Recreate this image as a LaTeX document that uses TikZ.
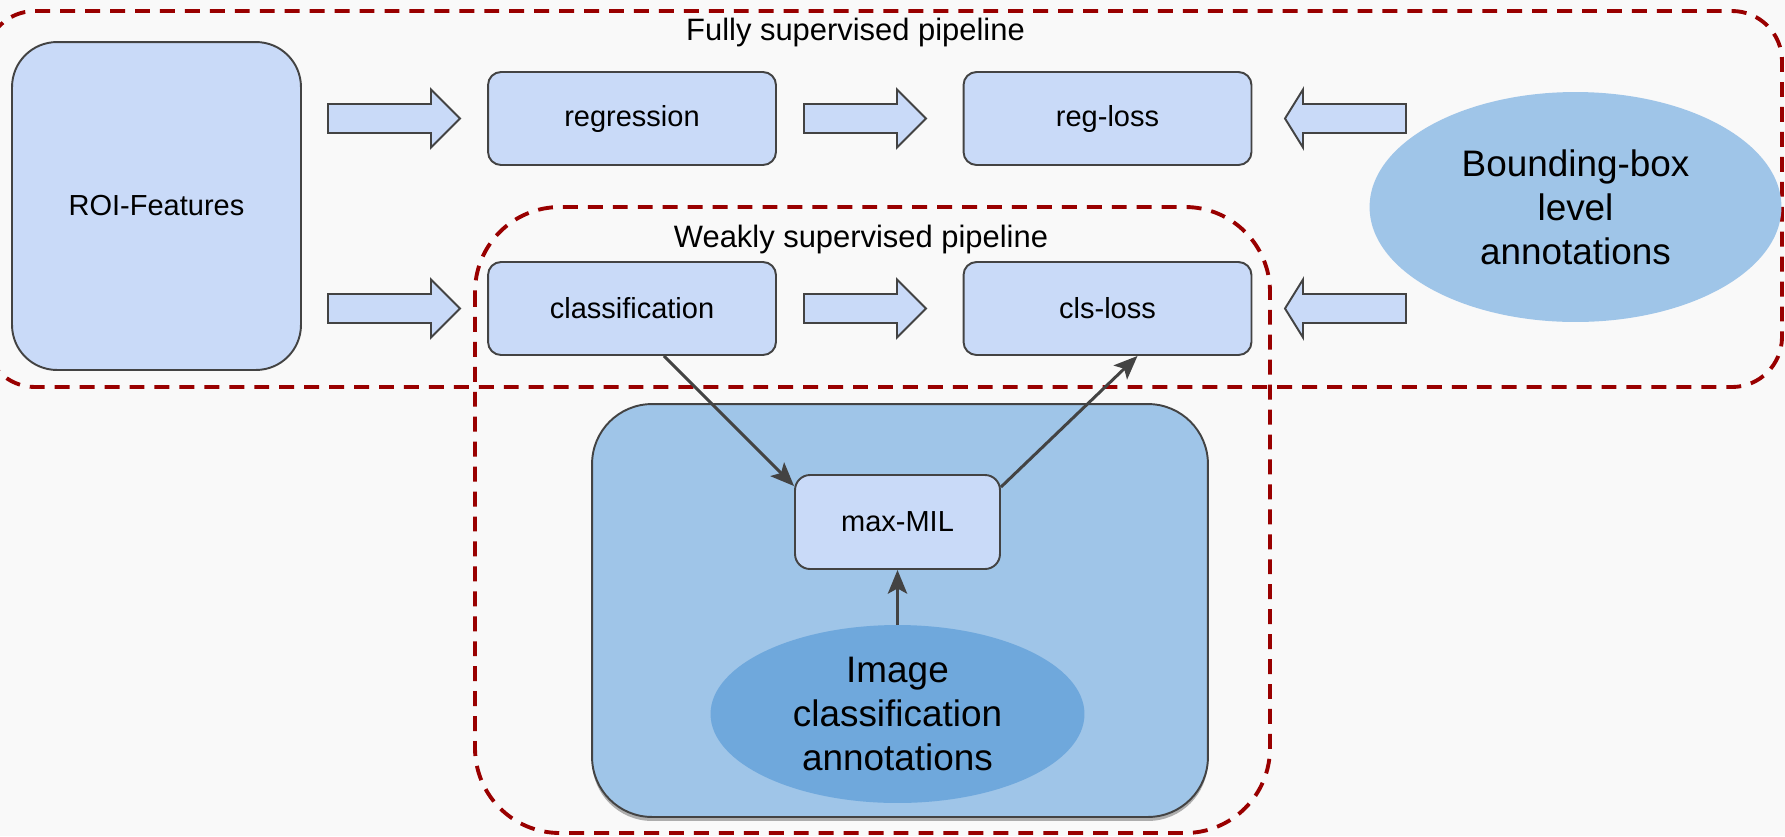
\documentclass[tikz,border=0pt]{standalone}
\usepackage{fontspec}
\setmainfont{Liberation Sans}
\usepackage{xcolor}
\definecolor{boxblue}{HTML}{C9DAF8}
\definecolor{paleblue}{HTML}{9FC5E8}
\definecolor{midblue}{HTML}{6FA8DC}
\definecolor{dashred}{HTML}{990000}
\definecolor{darkslate}{HTML}{434343}
\definecolor{canvasgray}{HTML}{F9F9F9}
\usepackage{tikz}
\usetikzlibrary{arrows.meta, positioning, calc, shapes.geometric, shadows}

\newcommand{\blockarrow}[4]{%
    \draw[blockarr] (#1,{#3-14.5}) -- ({#2-(#4)},{#3-14.5}) -- ({#2-(#4)},{#3-29}) -- (#2,#3)
        -- ({#2-(#4)},{#3+29}) -- ({#2-(#4)},{#3+14.5}) -- (#1,{#3+14.5}) -- cycle;}

\begin{document}
\begin{tikzpicture}[x=0.02cm, y=-0.02cm,
    stage/.style={draw=darkslate, line width=1.1pt, fill=boxblue, rounded corners=0.26cm,
        minimum width=5.76cm, minimum height=1.86cm, font=\fontsize{16.5}{20}\selectfont},
    annot/.style={ellipse, fill=paleblue, inner sep=0pt, align=center, font=\fontsize{21}{25}\selectfont},
    pipeframe/.style={draw=dashred, line width=2.2pt, dash pattern=on 8.5pt off 5.7pt},
    pipelabel/.style={font=\fontsize{17.6}{21}\selectfont},
    blockarr/.style={draw=darkslate, line width=1.1pt, fill=boxblue, line join=miter},
    conn/.style={draw=darkslate, line width=1.7pt, -{Stealth[length=13.5pt, width=11pt, inset=3pt]}}]
    \useasboundingbox (0,0) rectangle (1785,836);
    \fill[canvasgray] (0,0) rectangle (1785,836);

    \draw[pipeframe, rounded corners=1cm] (-15,11) rectangle (1782,387);
    \draw[pipeframe, rounded corners=1.7cm] (475,207) rectangle (1270,833);
    \node[pipelabel] (fullylbl) at (855.5,32) {Fully supervised pipeline};
    \node[pipelabel] (weaklylbl) at (861,239) {Weakly supervised pipeline};

    \node[stage, rounded corners=0.9cm, minimum width=5.78cm, minimum height=6.56cm] (roi) at (156.5,206) {ROI-Features};
    \node[stage] (reg) at (632,118.5) {regression};
    \node[stage] (regloss) at (1107.5,118.5) {reg-loss};
    \node[stage] (cls) at (632,308.5) {classification};
    \node[stage] (clsloss) at (1107.5,308.5) {cls-loss};
    \node[annot, minimum width=8.24cm, minimum height=4.6cm] (bboxann) at (1575.5,207) {Bounding-box\\level\\annotations};

    \blockarrow{328}{460}{118.5}{29}
    \blockarrow{328}{460}{308.5}{29}
    \blockarrow{804}{926}{118.5}{29}
    \blockarrow{804}{926}{308.5}{29}
    \blockarrow{1406}{1285}{118.5}{-18}
    \blockarrow{1406}{1285}{308.5}{-18}

    \node[draw=darkslate, line width=1.1pt, fill=paleblue, rounded corners=1.2cm, minimum width=12.32cm, minimum height=8.26cm,
        drop shadow={shadow xshift=0cm, shadow yshift=-0.08cm, fill=black, opacity=0.3}] (milbox) at (900,610.5) {};
    \node[stage, rounded corners=0.3cm, minimum width=4.1cm, minimum height=1.88cm] (mil) at (897.5,522) {max-MIL};
    \node[annot, fill=midblue, minimum width=7.48cm, minimum height=3.56cm] (imgann) at (897.5,714) {Image\\classification\\annotations};

    \draw[conn] ([xshift=0.64cm]cls.south) -- ([yshift=-0.24cm]mil.north west);
    \draw[conn] ([yshift=-0.26cm]mil.north east) -- ([xshift=0.6cm]clsloss.south);
    \draw[conn] (imgann) -- (mil);
\end{tikzpicture}
\end{document}
